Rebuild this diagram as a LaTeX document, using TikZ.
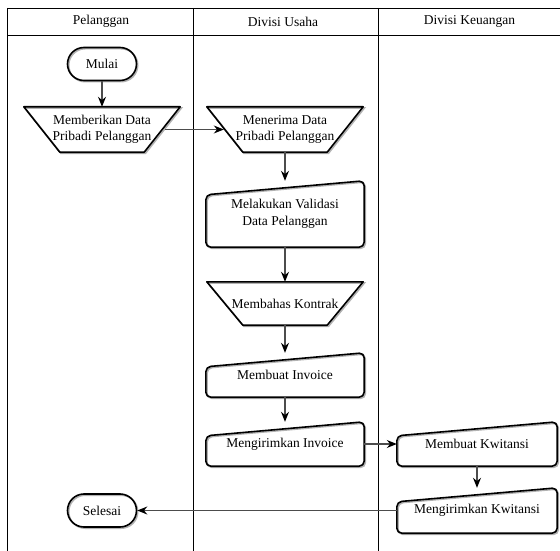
\documentclass[tikz,border=0pt]{standalone}
\usepackage{fontspec}
\setmainfont{Liberation Serif}
\newfontfamily\flowfont{Liberation Serif}
\usepackage{tikz}
\usetikzlibrary{calc}
\usetikzlibrary{arrows.meta}
\usetikzlibrary{shapes.misc}
\newcommand{\widthshape}{158pt}
\newcommand{\widthterm}{69pt}
\newcommand{\trapinset}{36pt}
\newcommand{\slantdrop}{14pt}
\tikzset{
    common/.style={inner sep=0pt, align=center, font=\flowfont\fontsize{13.5}{16.5}\selectfont},
    lanehead/.style={common},
    shade-off/.style={preaction={draw=black!30, line width=1.6pt, transform canvas={shift={(1.2pt,-1.2pt)}}}},
    terminal/.style={common, draw, line width=1.6pt, rounded rectangle, minimum width=\widthterm, minimum height=33pt, shade-off},
    trap/.style={common, minimum width=156pt, minimum height=45pt},
    manin/.style={common, minimum width=\widthshape, minimum height=44pt},
    outline/.style={line width=1.6pt, line join=round, shade-off},
    lane/.style={line width=0.9pt},
    conn/.style={line width=1.1pt, black!70, -{Stealth[length=10pt, width=8pt, color=black]}}
}

\begin{document}
\begin{tikzpicture}[x=1pt, y=-1pt]
    \useasboundingbox (0,0) rectangle (560,551);
    % lanes
    \draw[lane] (7,8) -- (560,8) (7,35) -- (560,35);
    \draw[lane] (7,8) -- (7,551) (193,8) -- (193,551) (378,8) -- (378,551);
    \node[lanehead] (h-pelanggan) at (101,21.5) {Pelanggan};
    \node[lanehead] (h-usaha) at (283,21.5) {Divisi Usaha};
    \node[lanehead] (h-keuangan) at (469.5,21.5) {Divisi Keuangan};
    % steps
    \node[terminal] (mulai) at (102,64) {Mulai};
    \node[trap] (memberi) at (102,129.5) {Memberikan Data\\Pribadi Pelanggan};
    \node[trap] (terima) at (285,129.5) {Menerima Data\\Pribadi Pelanggan};
    \node[manin, minimum height=66pt] (validasi) at (285,214) {Melakukan Validasi\\Data Pelanggan};
    \node[trap, minimum height=43pt] (bahas) at (285,303.5) {Membahas Kontrak};
    \node[manin] (buatinv) at (285,375) {Membuat Invoice};
    \node[manin] (kiriminv) at (285,444) {Mengirimkan Invoice};
    \node[manin, minimum width=160pt] (buatkw) at (477,444) {Membuat Kwitansi};
    \node[manin, minimum width=160pt, minimum height=45pt] (kirimkw) at (477,510.5) {Mengirimkan Kwitansi};
    \node[terminal] (selesai) at (102,510.5) {Selesai};
    % outlines
    \foreach \n in {memberi, terima, bahas}
        \draw[outline] (\n.north west) -- (\n.north east) -- ([xshift=-\trapinset]\n.south east) -- ([xshift=\trapinset]\n.south west) -- cycle;
    \foreach \n in {validasi, buatinv, kiriminv, buatkw, kirimkw}
        \draw[outline, rounded corners=5pt] (\n.south west) -- ([yshift=-\slantdrop]\n.north west) -- (\n.north east) -- (\n.south east) -- cycle;
    \coordinate (memberi-r) at ($(memberi.east)+(-15,0)$);
    \coordinate (terima-l) at ($(terima.west)+(17,0)$);
    % flow
    \draw[conn] (mulai.south) -- (memberi.north);
    \draw[conn] (memberi-r) -- (terima-l);
    \draw[conn] (terima.south) -- (validasi.north);
    \draw[conn] (validasi.south) -- (bahas.north);
    \draw[conn] (bahas.south) -- (buatinv.north);
    \draw[conn] (buatinv.south) -- (kiriminv.north);
    \draw[conn] (kiriminv.east) -- (buatkw.west);
    \draw[conn] (buatkw.south) -- (kirimkw.north);
    \draw[conn] (kirimkw.west) -- (selesai.east);
\end{tikzpicture}
\end{document}
